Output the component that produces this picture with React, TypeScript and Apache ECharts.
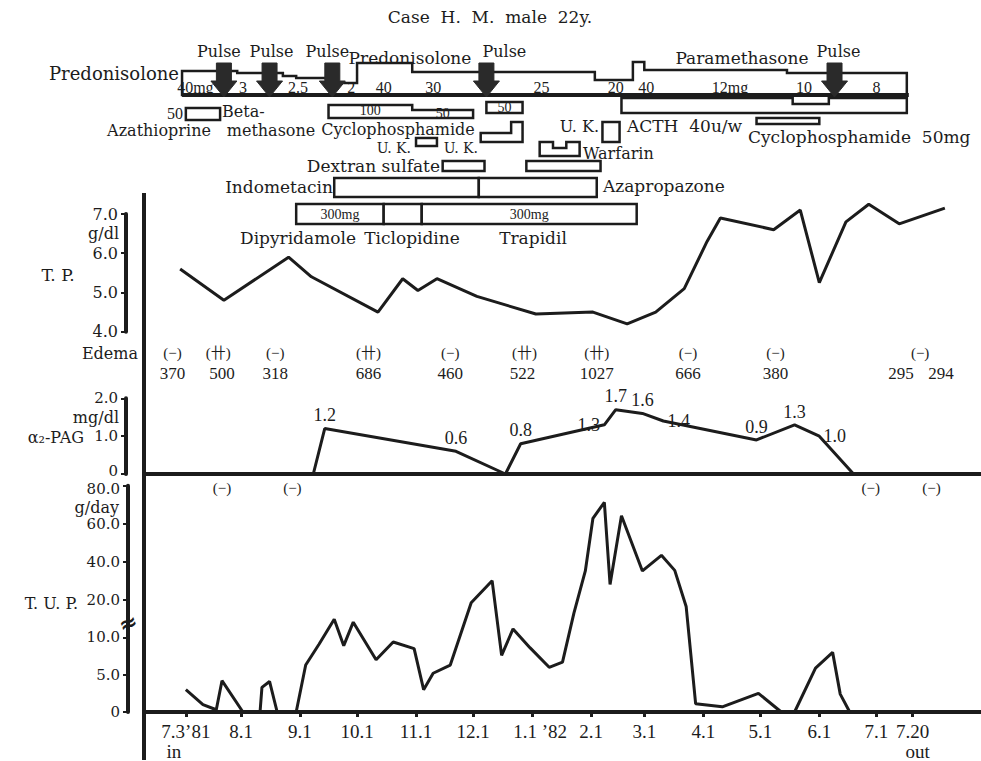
import { useEffect, useRef } from 'react';
import * as echarts from 'echarts';

// ================= DATA =================
const chartTitle = 'Case  H.  M.  male  22y.';

// Total protein (g/dl)
const tpDates = ['1981-06-30','1981-07-23','1981-08-26','1981-09-07','1981-10-12','1981-10-25','1981-11-02','1981-11-12','1981-12-03','1982-01-03','1982-02-02','1982-02-20','1982-03-07','1982-03-22','1982-04-03','1982-04-10','1982-05-08','1982-05-22','1982-06-01','1982-06-15','1982-06-27','1982-07-13','1982-08-06'];
const tpValues = [5.6,4.8,5.9,5.4,4.5,5.35,5.05,5.35,4.9,4.45,4.5,4.2,4.5,5.1,6.3,6.9,6.6,7.1,5.25,6.8,7.25,6.75,7.15];

// Edema and total cholesterol
const edemaDates = ['1981-06-26','1981-07-20','1981-08-19','1981-10-07','1981-11-19','1981-12-28','1982-02-04','1982-03-24','1982-05-09','1982-07-24'];
const edemaGrades = ['(−)','(卄)','(−)','(卄)','(−)','(卄)','(卄)','(−)','(−)','(−)'];
const tcDates = ['1981-06-26','1981-07-22','1981-08-19','1981-10-07','1981-11-19','1981-12-27','1982-02-04','1982-03-24','1982-05-09','1982-07-14','1982-08-04'];
const tcValues = [370,500,318,686,460,522,1027,666,380,295,294];

// alpha2-PAG (mg/dl)
const alphaDates = ['1981-09-08','1981-09-14','1981-11-22','1981-12-18','1981-12-26','1982-02-08','1982-02-14','1982-02-28','1982-03-11','1982-04-29','1982-05-19','1982-06-01','1982-06-19'];
const alphaValues = [0,1.2,0.6,0,0.8,1.3,1.7,1.6,1.4,0.9,1.3,1.0,0];
const alphaNegativeDates = ['1981-07-22','1981-08-28','1982-06-28','1982-07-30'];

// Total urinary protein (g/day)
const tupDates = ['1981-07-03','1981-07-12','1981-07-19','1981-07-22','1981-08-02','1981-08-11','1981-08-12','1981-08-16','1981-08-20','1981-08-30','1981-09-04','1981-09-11','1981-09-19','1981-09-24','1981-09-29','1981-10-11','1981-10-20','1981-10-31','1981-11-05','1981-11-10','1981-11-19','1981-11-30','1981-12-11','1981-12-16','1981-12-22','1981-12-31','1982-01-10','1982-01-17','1982-01-23','1982-01-29','1982-02-02','1982-02-08','1982-02-11','1982-02-17','1982-02-28','1982-03-10','1982-03-17','1982-03-23','1982-03-28','1982-04-11','1982-04-30','1982-05-12','1982-05-19','1982-05-30','1982-06-08','1982-06-12','1982-06-17'];
const tupValues = [3.0,1.0,0.3,4.2,0,0,3.3,4.1,0,0,6.3,9.1,14.9,8.9,14.1,7.0,9.4,8.5,3.0,5.2,6.3,19.3,30.2,7.6,12.3,8.6,6.0,6.7,16.5,35.3,62.9,71.3,28.2,64.2,35.3,43.5,35.6,18.3,1.1,0.7,2.5,0,0,5.9,8.0,2.4,0];
const tupTicks = [0, 5, 10, 20, 40, 60, 80];

// Time axis ticks
const tickDates = ['1981-07-03','1981-08-01','1981-09-01','1981-10-01','1981-11-01','1981-12-01','1982-01-01','1982-02-01','1982-03-01','1982-04-01','1982-05-01','1982-06-01','1982-07-01','1982-07-20'];
const tickLabels = ['7.3’81','8.1','9.1','10.1','11.1','12.1','1.1 ’82','2.1','3.1','4.1','5.1','6.1','7.1','7.20'];
const tickNotes = ['in','','','','','','','','','','','','','out'];

// Steroid course (Predonisolone -> Paramethasone): step boundaries, dose labels, pulses
const steroidStepDates = ['1981-07-01','1981-07-30','1981-08-23','1981-08-30','1981-09-18','1981-10-01','1981-10-30','1982-02-03','1982-02-23','1982-03-01','1982-05-15','1982-07-17'];
const steroidDoseDates = ['1981-07-08','1981-08-02','1981-08-31','1981-09-28','1981-10-15','1981-11-10','1982-01-06','1982-02-14','1982-03-02','1982-04-15','1982-05-24','1982-07-01'];
const steroidDoseLabels = ['40mg','3','2.5','2','40','30','25','20','40','12mg','10','8'];
const pulseDates = ['1981-07-23','1981-08-16','1981-09-18','1981-12-08','1982-06-09'];

// Other drugs: course boundaries
const azathioprineDates = ['1981-07-03','1981-07-21'];
const cyclophosphamideDates = ['1981-09-16','1981-10-30','1981-12-01'];
const cyclophosphamideDoses = ['100','50'];
const cyclophosphamide2Dates = ['1981-12-08','1981-12-27'];
const cyclophosphamide2Doses = ['50'];
const acthDates = ['1982-02-17','1982-05-18','1982-06-06','1982-07-17'];
const cyclophosphamide3Dates = ['1982-04-29','1982-06-01'];
const uk1Dates = ['1981-11-01','1981-11-12'];
const uk2Dates = ['1981-12-05','1981-12-21','1981-12-27'];
const uk3Dates = ['1982-02-07','1982-02-16'];
const warfarinDates = ['1982-01-05','1982-01-12','1982-01-19','1982-01-26'];
const dextranDates1 = ['1981-11-15','1981-12-07'];
const dextranDates2 = ['1981-12-29','1982-02-06'];
const indometacinDates = ['1981-09-19','1981-12-04'];
const azapropazoneDates = ['1981-12-04','1982-02-04'];
const dipyridamoleDates = ['1981-08-30','1981-10-15'];
const ticlopidineDates = ['1981-10-15','1981-11-04'];
const trapidilDates = ['1981-11-04','1982-02-25'];
const dailyDose300 = ['300mg'];

// ================= LAYOUT / STYLE =================
const INK = '#1c1c1c';
const SERIF = "'DejaVu Serif', 'Noto Sans CJK JP', serif";
const NUM = "'Liberation Serif', 'Noto Sans CJK JP', serif";
const X_MIN = -20;
const X_MAX = 420;
const LEFT = 144;
const WIDTH = 837;

const D0 = Date.UTC(1981, 6, 1);
function dayOf(s: string): number {
  const [y, m, d] = s.split('-').map(Number);
  return (Date.UTC(y, m - 1, d) - D0) / 86400000;
}

function tupScale(v: number): number {
  if (v <= 10) return v;
  if (v <= 20) return 10 + (v - 10) * 0.5013;
  return 15.013 + (v - 20) * 0.2559;
}

const STEROID_BASE = 95;
const STEROID_BAND = [24, 22, 19, 17, 12, 32, 23, 15, 33, 25, 22];
const PULSE_LABEL_SHIFT = [-5, 2, -5, 18, 4];

const BARS: { dates: string[]; bottom: number; heights: number[]; texts?: string[]; textDy?: number }[] = [
  { dates: azathioprineDates, bottom: 120, heights: [12] },
  { dates: cyclophosphamideDates, bottom: 118, heights: [13, 8], texts: cyclophosphamideDoses, textDy: -1 },
  { dates: cyclophosphamide2Dates, bottom: 113, heights: [11], texts: cyclophosphamide2Doses },
  { dates: acthDates, bottom: 113, heights: [15, 9, 15] },
  { dates: cyclophosphamide3Dates, bottom: 124, heights: [6] },
  { dates: uk1Dates, bottom: 146, heights: [8] },
  { dates: uk2Dates, bottom: 142, heights: [9, 20] },
  { dates: uk3Dates, bottom: 142, heights: [20] },
  { dates: warfarinDates, bottom: 156, heights: [14, 8, 14] },
  { dates: dextranDates1, bottom: 171, heights: [10] },
  { dates: dextranDates2, bottom: 171, heights: [10] },
  { dates: indometacinDates, bottom: 197, heights: [19] },
  { dates: azapropazoneDates, bottom: 197, heights: [19] },
  { dates: dipyridamoleDates, bottom: 224, heights: [20], texts: dailyDose300 },
  { dates: ticlopidineDates, bottom: 224, heights: [20] },
  { dates: trapidilDates, bottom: 224, heights: [20], texts: dailyDose300 },
];

function txt(text: string, x: number, y: number, align: string, font: string, rotation = 0) {
  return {
    type: 'text', x, y, rotation, silent: true,
    style: { text, fill: INK, font, align, textAlign: align, verticalAlign: 'middle', textVerticalAlign: 'middle' },
  };
}

function buildOption() {
  const xAxisBase = (gridIndex: number) => ({
    type: 'value', gridIndex, min: X_MIN, max: X_MAX, show: false, splitLine: { show: false },
  });
  const tickDays = tickDates.map(dayOf);
  const tupTickVals = tupTicks.map(tupScale);

  const axisLabelFont = { fontFamily: SERIF, fontSize: 16, color: INK };
  const axisLine = { show: true, onZero: false, lineStyle: { color: INK, width: 4 } };

  const stepPolygon = (xs: number[], bottom: number, heights: number[]) => {
    const pts: number[][] = [[xs[0], bottom]];
    heights.forEach((h, i) => { pts.push([xs[i], bottom - h], [xs[i + 1], bottom - h]); });
    pts.push([xs[xs.length - 1], bottom]);
    return pts;
  };

  const alphaLabelPos: Record<number, any> = {
    1: { position: 'top', offset: [1, 0] },
    2: { position: 'top', offset: [-25, 0] },
    4: { position: 'top', offset: [-3, -2] },
    5: { position: 'left', offset: [0, -12] },
    6: { position: 'top', offset: [3, 0] },
    7: { position: 'top', offset: [6, 0] },
    8: { position: 'right', offset: [0, -4] },
    9: { position: 'top', offset: [-6, -9] },
    10: { position: 'top', offset: [0, 0] },
    11: { position: 'right', offset: [-2, -6] },
  };

  return {
    animation: false,
    backgroundColor: '#ffffff',
    textStyle: { fontFamily: SERIF, color: INK },
    grid: [
      { left: LEFT, top: 40, width: WIDTH, height: 200 },
      { left: LEFT, top: 214, width: WIDTH, height: 117.7 },
      { left: LEFT, top: 343, width: WIDTH, height: 40 },
      { left: LEFT, top: 398.3, width: WIDTH, height: 75.7 },
      { left: LEFT, top: 485.7, width: WIDTH, height: 232.6 },
    ],
    xAxis: [
      xAxisBase(0),
      xAxisBase(1),
      xAxisBase(2),
      { ...xAxisBase(3), show: true, axisLine, axisTick: { show: false }, axisLabel: { show: false } },
      {
        ...xAxisBase(4), show: true, axisLine,
        axisTick: { show: true, customValues: tickDays, length: 5, lineStyle: { color: INK, width: 3 } },
        axisLabel: {
          show: true, customValues: tickDays, margin: 9, fontFamily: NUM, fontSize: 19, color: INK, lineHeight: 20,
          formatter: (v: number) => {
            const i = tickDays.findIndex((d) => Math.abs(d - v) < 0.01);
            if (i < 0) return '';
            let s = tickLabels[i];
            if (s.includes('’82')) s = `{shift|${s}}`;
            if (tickNotes[i] === 'in') s += `\n{inl|in}`;
            if (tickNotes[i] === 'out') s += `\n{outl|out}`;
            return s;
          },
          rich: {
            shift: { fontFamily: NUM, fontSize: 19, color: INK, padding: [0, 0, 0, 16] },
            inl: { fontFamily: NUM, fontSize: 19, color: INK, padding: [0, 24, 0, 0] },
            outl: { fontFamily: NUM, fontSize: 19, color: INK, padding: [0, 0, 0, 10] },
          },
        },
      },
    ],
    yAxis: [
      { type: 'value', gridIndex: 0, min: 0, max: 1, show: false },
      {
        type: 'value', gridIndex: 1, min: 4, max: 7, interval: 1, offset: 18, axisLine,
        axisTick: { show: true, length: 5, lineStyle: { color: INK, width: 2 } },
        axisLabel: { ...axisLabelFont, margin: 8, formatter: (v: number) => v.toFixed(1) },
        splitLine: { show: false },
      },
      {
        type: 'category', gridIndex: 2, data: ['Edema', 'TC (mg/dl)'], inverse: true,
        axisLine: { show: false }, axisTick: { show: false },
        axisLabel: { ...axisLabelFont, margin: 6 },
      },
      {
        type: 'value', gridIndex: 3, min: 0, max: 2, interval: 1, offset: 18, axisLine,
        axisTick: { show: true, length: 5, lineStyle: { color: INK, width: 2 } },
        axisLabel: {
          ...axisLabelFont, fontSize: 15, margin: 8,
          formatter: (v: number) => (v === 0 ? '{z|0}' : v.toFixed(1)),
          rich: { z: { fontFamily: SERIF, fontSize: 15, color: INK, padding: [0, 0, 6, 0] } },
        },
        splitLine: { show: false },
      },
      {
        type: 'value', gridIndex: 4, min: 0, max: tupScale(80), offset: 16, axisLine,
        axisTick: { show: true, length: 5, customValues: tupTickVals, lineStyle: { color: INK, width: 2 } },
        axisLabel: {
          ...axisLabelFont, fontSize: 15, margin: 8, customValues: tupTickVals,
          formatter: (v: number) => {
            const i = tupTickVals.findIndex((t) => Math.abs(t - v) < 1e-6);
            if (i < 0) return '';
            if (tupTicks[i] === 80) return '{top|80.0}';
            return tupTicks[i] === 0 ? '0' : tupTicks[i].toFixed(1);
          },
          rich: { top: { fontFamily: SERIF, fontSize: 15, color: INK, padding: [6, 0, 0, 0] } },
        },
        splitLine: { show: false },
      },
    ],
    series: [
      // Steroid course outline
      {
        type: 'custom', coordinateSystem: 'cartesian2d', xAxisIndex: 0, yAxisIndex: 0, silent: true,
        data: [[dayOf(steroidStepDates[0]), dayOf(steroidStepDates[steroidStepDates.length - 1])]],
        renderItem: (_p: any, api: any) => {
          const xs = steroidStepDates.map((d) => api.coord([dayOf(d), 0])[0]);
          return {
            type: 'group',
            children: [
              { type: 'polygon', shape: { points: stepPolygon(xs, STEROID_BASE, STEROID_BAND) }, style: { fill: '#fff', stroke: INK, lineWidth: 2.5 } },
              { type: 'line', shape: { x1: xs[0], y1: STEROID_BASE, x2: xs[xs.length - 1] + 2, y2: STEROID_BASE }, style: { stroke: INK, lineWidth: 4 } },
            ],
          };
        },
      },
      // Steroid dose labels
      {
        type: 'custom', coordinateSystem: 'cartesian2d', xAxisIndex: 0, yAxisIndex: 0, silent: true,
        data: steroidDoseDates.map((d) => [dayOf(d), 0]),
        renderItem: (p: any, api: any) => {
          const x = api.coord([api.value(0), 0])[0];
          return txt(steroidDoseLabels[p.dataIndex], x, 87, 'center', `16px ${NUM}`);
        },
      },
      // Other drugs
      {
        type: 'custom', coordinateSystem: 'cartesian2d', xAxisIndex: 0, yAxisIndex: 0, silent: true,
        data: BARS.map((b) => [dayOf(b.dates[0]), dayOf(b.dates[b.dates.length - 1])]),
        renderItem: (p: any, api: any) => {
          const b = BARS[p.dataIndex];
          const xs = b.dates.map((d) => api.coord([dayOf(d), 0])[0]);
          const children: any[] = [
            { type: 'polygon', shape: { points: stepPolygon(xs, b.bottom, b.heights) }, style: { fill: '#fff', stroke: INK, lineWidth: 2.5 } },
          ];
          (b.texts || []).forEach((t, i) => {
            children.push(txt(t, (xs[i] + xs[i + 1]) / 2, b.bottom - b.heights[i] / 2 + (b.textDy || 0), 'center', `14px ${NUM}`));
          });
          return { type: 'group', children };
        },
      },
      // Pulse arrows
      {
        type: 'custom', coordinateSystem: 'cartesian2d', xAxisIndex: 0, yAxisIndex: 0, silent: true,
        data: pulseDates.map((d) => [dayOf(d), 0]),
        renderItem: (p: any, api: any) => {
          const x = api.coord([api.value(0), 0])[0];
          return {
            type: 'group',
            children: [
              { type: 'polygon', shape: { points: [[x - 7.5, 63], [x + 7.5, 63], [x + 7.5, 81], [x + 13, 81], [x, 97], [x - 13, 81], [x - 7.5, 81]] }, style: { fill: '#2a2a2a', stroke: '#2a2a2a', lineWidth: 1 } },
              txt('Pulse', x + PULSE_LABEL_SHIFT[p.dataIndex], 51, 'center', `16px ${SERIF}`),
            ],
          };
        },
      },
      // T.P.
      {
        type: 'line', xAxisIndex: 1, yAxisIndex: 1, symbol: 'none', clip: false,
        lineStyle: { color: INK, width: 3 },
        data: tpDates.map((d, i) => [dayOf(d), tpValues[i]]),
      },
      // Edema
      {
        type: 'custom', coordinateSystem: 'cartesian2d', xAxisIndex: 2, yAxisIndex: 2, silent: true,
        data: edemaDates.map((d) => [dayOf(d), 0]),
        renderItem: (p: any, api: any) => {
          const pt = api.coord([api.value(0), 0]);
          return txt(edemaGrades[p.dataIndex], pt[0], pt[1], 'center', `15px ${NUM}`);
        },
      },
      // TC
      {
        type: 'custom', coordinateSystem: 'cartesian2d', xAxisIndex: 2, yAxisIndex: 2, silent: true,
        data: tcDates.map((d) => [dayOf(d), 1]),
        renderItem: (p: any, api: any) => {
          const pt = api.coord([api.value(0), 1]);
          return txt(String(tcValues[p.dataIndex]), pt[0], pt[1], 'center', `17px ${NUM}`);
        },
      },
      // alpha2-PAG
      {
        type: 'line', xAxisIndex: 3, yAxisIndex: 3, symbol: 'circle', symbolSize: 0.5, showSymbol: true, clip: false,
        itemStyle: { color: INK },
        lineStyle: { color: INK, width: 3 },
        label: { show: false },
        labelLayout: { hideOverlap: false },
        data: alphaDates.map((d, i) => {
          const lp = alphaLabelPos[i];
          return {
            value: [dayOf(d), alphaValues[i]],
            label: lp
              ? { show: true, ...lp, distance: 4, fontFamily: NUM, fontSize: 18, color: INK, formatter: alphaValues[i].toFixed(1) }
              : { show: false },
          };
        }),
      },
      // alpha2-PAG negative results
      {
        type: 'custom', coordinateSystem: 'cartesian2d', xAxisIndex: 3, yAxisIndex: 3, silent: true,
        data: alphaNegativeDates.map((d) => [dayOf(d), 0]),
        renderItem: (_p: any, api: any) => {
          const pt = api.coord([api.value(0), 0]);
          return txt('(−)', pt[0], pt[1] + 14, 'center', `15px ${NUM}`);
        },
      },
      // T.U.P.
      {
        type: 'line', xAxisIndex: 4, yAxisIndex: 4, symbol: 'none', clip: false,
        lineStyle: { color: INK, width: 3 },
        data: tupDates.map((d, i) => [dayOf(d), tupScale(tupValues[i])]),
      },
    ],
    graphic: [
      txt(chartTitle, 490, 17, 'center', `17px ${SERIF}`),
      txt('Predonisolone', 179, 73, 'right', `18px ${SERIF}`),
      txt('Predonisolone', 410, 58, 'center', `17px ${SERIF}`),
      txt('Paramethasone', 742, 58, 'center', `17px ${SERIF}`),
      txt('50', 183, 113, 'right', `16px ${NUM}`),
      txt('Azathioprine', 159, 130, 'center', `16px ${SERIF}`),
      txt('Beta-', 222, 111, 'left', `16px ${SERIF}`),
      txt('methasone', 271, 130, 'center', `16px ${SERIF}`),
      txt('Cyclophosphamide', 398, 129, 'center', `16px ${SERIF}`),
      txt('U. K.', 411, 148, 'right', `14px ${SERIF}`),
      txt('U. K.', 478, 148, 'right', `14px ${SERIF}`),
      txt('U. K.', 599, 126, 'right', `16px ${SERIF}`),
      txt('ACTH  40u/w', 627, 126, 'left', `17px ${SERIF}`),
      txt('Cyclophosphamide  50mg', 748, 137, 'left', `17px ${SERIF}`),
      txt('Warfarin', 583, 153, 'left', `16px ${SERIF}`),
      txt('Dextran sulfate', 440, 166, 'right', `17px ${SERIF}`),
      txt('Indometacin', 333, 187, 'right', `17px ${SERIF}`),
      txt('Azapropazone', 603, 186, 'left', `17px ${SERIF}`),
      txt('Dipyridamole', 298, 238, 'center', `17px ${SERIF}`),
      txt('Ticlopidine', 412, 238, 'center', `17px ${SERIF}`),
      txt('Trapidil', 533, 238, 'center', `17px ${SERIF}`),
      txt('T. P.', 58, 275, 'center', `17px ${SERIF}`),
      txt('g/dl', 119, 233, 'right', `16px ${SERIF}`),
      txt('mg/dl', 119, 417, 'right', `16px ${SERIF}`),
      txt('α₂-PAG', 84, 437, 'right', `16px ${SERIF}`),
      txt('g/day', 119, 507, 'right', `16px ${SERIF}`),
      txt('T. U. P.', 78, 603, 'right', `16px ${SERIF}`),
      { type: 'line', silent: true, shape: { x1: 144, y1: 193, x2: 144, y2: 760 }, style: { stroke: INK, lineWidth: 4 } },
      { type: 'rect', silent: true, shape: { x: 123, y: 618, width: 10, height: 11 }, style: { fill: '#ffffff' } },
      txt('≈', 128, 623, 'center', `bold 22px 'DejaVu Sans'`, 0.35),
    ],
  };
}

export default function App() {
  const ref = useRef<HTMLDivElement>(null);
  useEffect(() => {
    if (!ref.current) return;
    const chart = echarts.init(ref.current, null, { renderer: 'svg' });
    chart.setOption(buildOption() as any);
    return () => chart.dispose();
  }, []);
  return <div ref={ref} style={{ position: 'absolute', left: 0, top: 0, width: 981, height: 761, background: '#fff' }} />;
}
